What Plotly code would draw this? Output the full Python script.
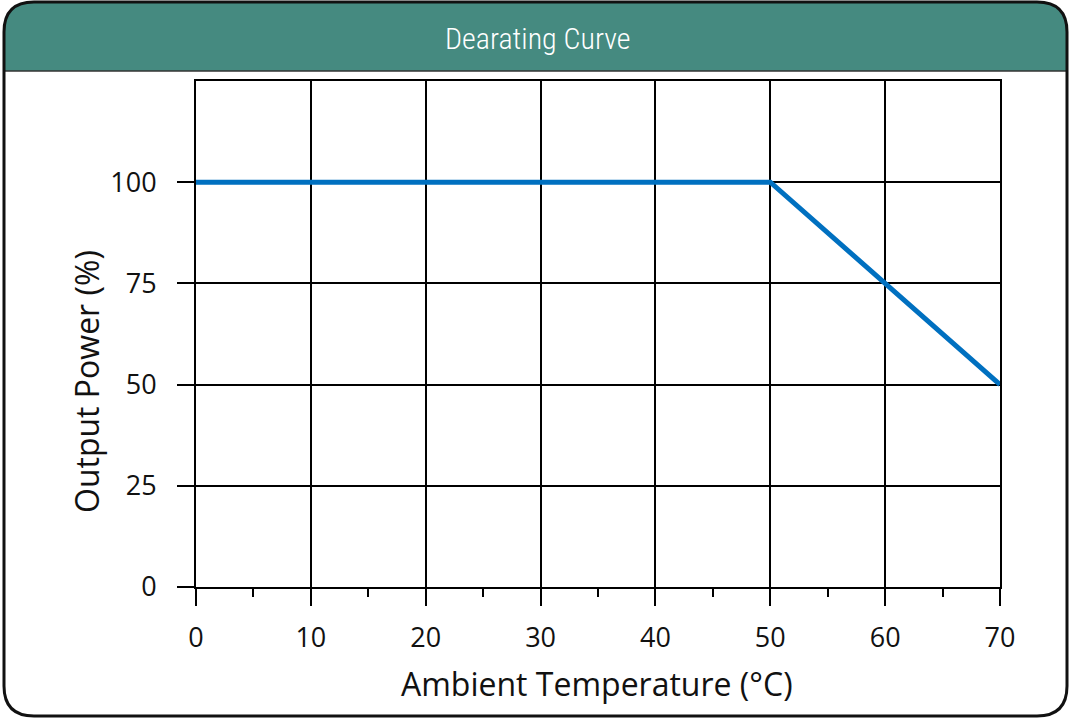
import plotly.graph_objects as go

# ---- data ----
temperature_c = [0, 50, 70]
output_power_pct = [100, 100, 50]
x_tick_vals = [0, 10, 20, 30, 40, 50, 60, 70]
y_tick_vals = [0, 25, 50, 75, 100]
chart_title = "Dearating Curve"
x_title = "Ambient Temperature (°C)"
y_title = "Output Power (%)"

W, H = 1070, 719
L, R, T, B = 196, 1000, 81, 587  # plot area in px


def px(x):
    return (x - L) / (R - L)


def py(y):
    return 1 - (y - T) / (B - T)


fig = go.Figure()
fig.add_trace(go.Scatter(
    x=temperature_c, y=output_power_pct, mode="lines",
    line=dict(color="#0070C0", width=5), hoverinfo="skip", showlegend=False,
))

tick_font = dict(family="Open Sans, Noto Sans, sans-serif", size=27, color="#111")

fig.update_layout(
    width=W, height=H,
    margin=dict(l=L, r=W - R, t=T, b=H - B, pad=0),
    paper_bgcolor="white", plot_bgcolor="white",
    showlegend=False,
)
fig.update_xaxes(
    range=[0, 70], tickvals=x_tick_vals, showgrid=True, gridcolor="#000", gridwidth=1.5,
    showline=True, linecolor="#000", linewidth=2, mirror=True,
    ticks="outside", ticklen=17, tickwidth=2, tickcolor="#000",
    minor=dict(dtick=5, tick0=0, ticks="outside", ticklen=8, tickwidth=2, tickcolor="#000", showgrid=False),
    tickfont=tick_font, ticklabelstandoff=9, zeroline=False,
)
fig.update_yaxes(
    range=[0, 125], tickvals=y_tick_vals, showgrid=True, gridcolor="#000", gridwidth=1.5,
    showline=True, linecolor="#000", linewidth=2, mirror=True,
    ticks="outside", ticklen=17, tickwidth=2, tickcolor="#000",
    tickfont=tick_font, ticklabelstandoff=15, zeroline=False,
)

# outer rounded frame and header
x0, x1, y0, y1, r = 4, 1067, 2, 716, 30
hb = 71
frame = (f"M {px(x0)},{py(y0 + r)} Q {px(x0)},{py(y0)} {px(x0 + r)},{py(y0)} "
         f"L {px(x1 - r)},{py(y0)} Q {px(x1)},{py(y0)} {px(x1)},{py(y0 + r)} "
         f"L {px(x1)},{py(y1 - r)} Q {px(x1)},{py(y1)} {px(x1 - r)},{py(y1)} "
         f"L {px(x0 + r)},{py(y1)} Q {px(x0)},{py(y1)} {px(x0)},{py(y1 - r)} Z")
header = (f"M {px(x0)},{py(hb)} L {px(x0)},{py(y0 + r)} Q {px(x0)},{py(y0)} {px(x0 + r)},{py(y0)} "
          f"L {px(x1 - r)},{py(y0)} Q {px(x1)},{py(y0)} {px(x1)},{py(y0 + r)} "
          f"L {px(x1)},{py(hb)} Z")
fig.add_shape(type="path", path=header, xref="paper", yref="paper",
              fillcolor="#458A80", line=dict(width=0), layer="below")
fig.add_shape(type="line", xref="paper", yref="paper", x0=px(x0), x1=px(x1), y0=py(hb), y1=py(hb),
              line=dict(color="#333", width=1.5))
fig.add_shape(type="path", path=frame, xref="paper", yref="paper",
              line=dict(color="#111", width=3), layer="above")

fig.add_annotation(text=chart_title, xref="paper", yref="paper", x=px(538), y=py(38),
                   showarrow=False, xanchor="center", yanchor="middle",
                   font=dict(family="Liberation Sans Narrow, Roboto Condensed, Roboto, sans-serif",
                             size=30, color="white", weight=300))
fig.add_annotation(text=x_title, xref="paper", yref="paper", x=px(597), y=py(683),
                   showarrow=False, xanchor="center", yanchor="middle",
                   font=dict(family="Open Sans, Noto Sans, sans-serif", size=32, color="#111"))
fig.add_annotation(text=y_title, xref="paper", yref="paper", x=px(86), y=py(382),
                   showarrow=False, xanchor="center", yanchor="middle", textangle=-90,
                   font=dict(family="Open Sans, Noto Sans, sans-serif", size=32, color="#111"))

fig.write_html("out.html", config={"displayModeBar": False},
               post_script="document.body.style.margin='0';document.body.style.padding='0';"
                           "document.body.style.overflow='hidden';")
